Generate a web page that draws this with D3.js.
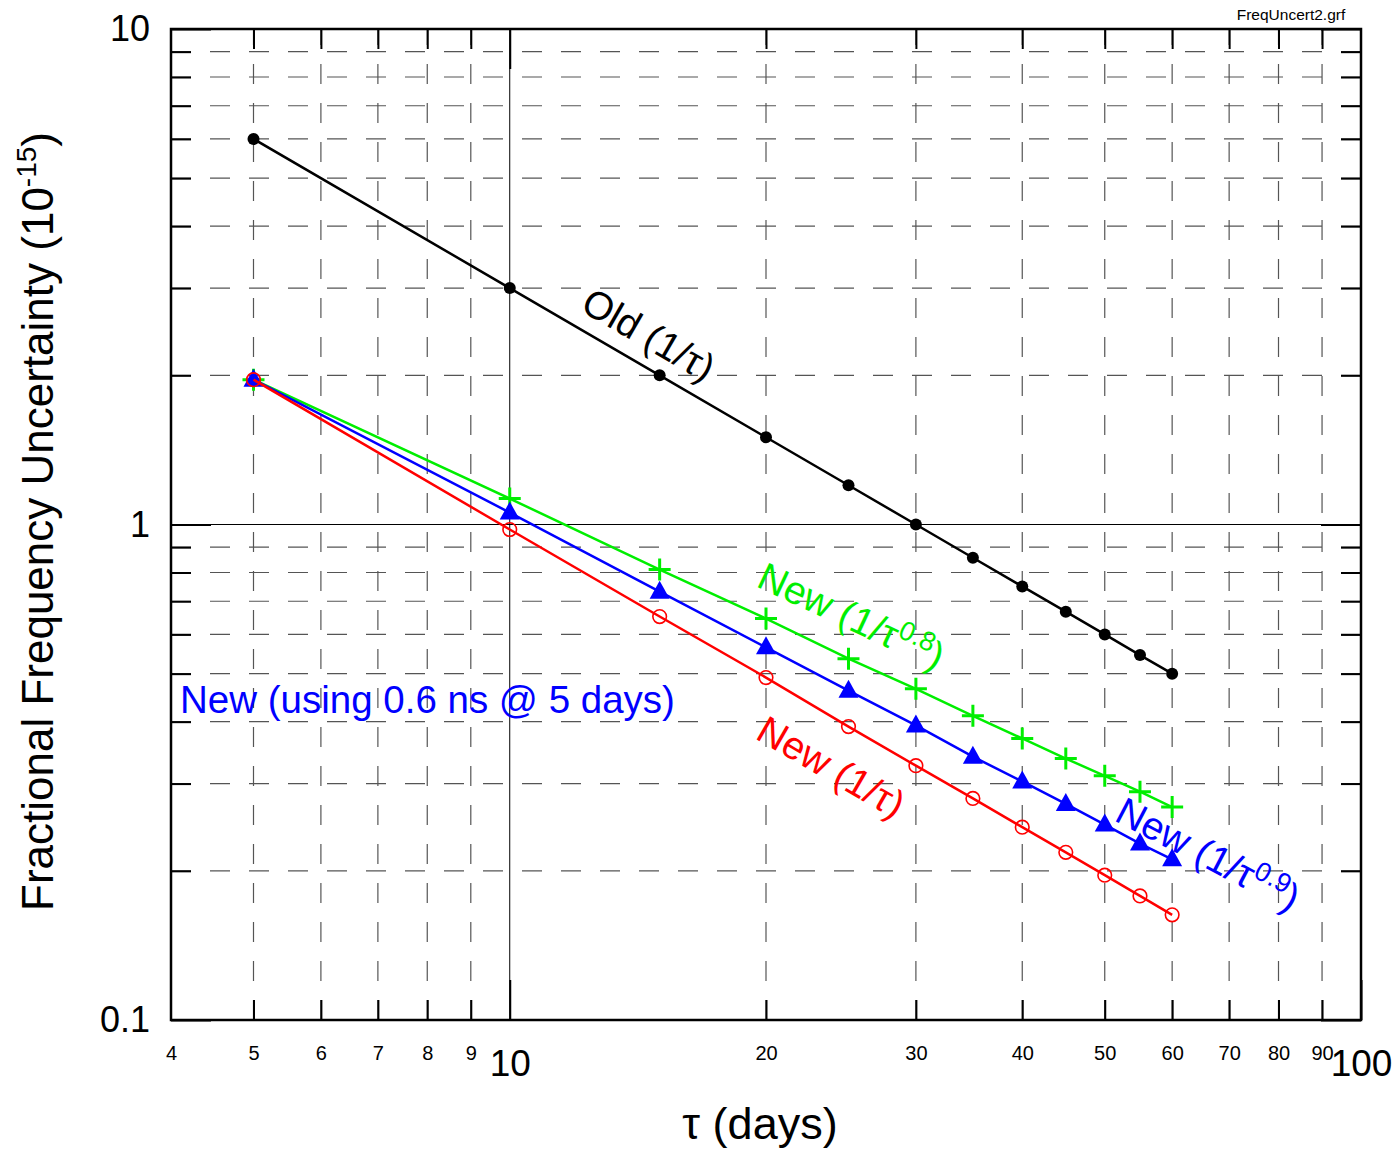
<!DOCTYPE html>
<html>
<head>
<meta charset="utf-8">
<script src="https://cdn.jsdelivr.net/npm/d3@7"></script>
<style>
body { margin: 0; background: #fff; }
text { font-family: "Liberation Sans", Arial, sans-serif; }
</style>
</head>
<body>
<script>
// tau in days, values in units of 1e-15
const tau = [5, 10, 15, 20, 25, 30, 35, 40, 45, 50, 55, 60];
const oldVals = [6.0, 3.0, 2.0, 1.5, 1.2, 1.0, 0.857, 0.75, 0.667, 0.6, 0.545, 0.5];
const newInv = [1.96, 0.977, 0.652, 0.491, 0.391, 0.326, 0.28, 0.245, 0.218, 0.196, 0.178, 0.163];
const newP09 = [1.96, 1.057, 0.732, 0.565, 0.462, 0.393, 0.34, 0.303, 0.273, 0.248, 0.227, 0.211];
const newP08 = [1.96, 1.128, 0.811, 0.646, 0.536, 0.466, 0.411, 0.37, 0.337, 0.311, 0.289, 0.269];

const xMinor = [5, 6, 7, 8, 9, 20, 30, 40, 50, 60, 70, 80, 90];
const xMajor = [10, 100];
const xEdge = [4];
const yMinor = [0.2, 0.3, 0.4, 0.5, 0.6, 0.7, 0.8, 0.9, 2, 3, 4, 5, 6, 7, 8, 9];
const yMajor = [0.1, 1, 10];

function draw() {
  const W = 1398, H = 1151;
  const L = 171, R = 1361, T = 29, B = 1020;

  const svg = d3.select("body").append("svg")
    .attr("width", W).attr("height", H);

  const x = d3.scaleLog().domain([4, 100]).range([L, R]);
  const y = d3.scaleLog().domain([0.1, 10]).range([B, T]);

  // dashed grid
  const grid = svg.append("g");
  grid.selectAll(".gx").data(xMinor).enter().append("line")
    .attr("x1", d => x(d)).attr("x2", d => x(d))
    .attr("y1", B).attr("y2", T)
    .attr("stroke", "#555").attr("stroke-width", 1.2)
    .attr("stroke-dasharray", "20,19");
  grid.selectAll(".gy").data(yMinor).enter().append("line")
    .attr("x1", L).attr("x2", R)
    .attr("y1", d => y(d)).attr("y2", d => y(d))
    .attr("stroke", "#555").attr("stroke-width", 1.2)
    .attr("stroke-dasharray", "20,19");
  // solid decade lines
  grid.append("line").attr("x1", x(10)).attr("x2", x(10)).attr("y1", B).attr("y2", T)
    .attr("stroke", "#000").attr("stroke-width", 1);
  grid.append("line").attr("x1", L).attr("x2", R).attr("y1", y(1)).attr("y2", y(1))
    .attr("stroke", "#000").attr("stroke-width", 1);

  // axes with inward ticks
  function style(g, fs) {
    g.select(".domain").remove();
    g.selectAll(".tick line").attr("stroke", "#000").attr("stroke-width", 2);
    g.selectAll("text").attr("font-size", fs).attr("fill", "#000")
      .attr("font-family", "Liberation Sans, Arial, sans-serif");
  }
  const fmt = d3.format("");
  svg.append("g").attr("transform", `translate(0,${B})`)
    .call(d3.axisBottom(x).tickValues(xMinor.concat(xEdge)).tickSize(-20).tickPadding(26).tickFormat(fmt))
    .call(g => style(g, 20))
    .call(g => g.selectAll(".tick").filter(d => d === 4).select("line").remove());
  svg.append("g").attr("transform", `translate(0,${B})`)
    .call(d3.axisBottom(x).tickValues(xMajor).tickSize(-40).tickPadding(30).tickFormat(fmt))
    .call(g => style(g, 37));
  svg.append("g").attr("transform", `translate(0,${T})`)
    .call(d3.axisTop(x).tickValues(xMinor).tickSize(-20).tickFormat(""))
    .call(g => style(g, 0));
  svg.append("g").attr("transform", `translate(0,${T})`)
    .call(d3.axisTop(x).tickValues([10]).tickSize(-40).tickFormat(""))
    .call(g => style(g, 0));
  svg.append("g").attr("transform", `translate(${L},0)`)
    .call(d3.axisLeft(y).tickValues(yMinor).tickSize(-20).tickFormat(""))
    .call(g => style(g, 0));
  svg.append("g").attr("transform", `translate(${L},0)`)
    .call(d3.axisLeft(y).tickValues(yMajor).tickSize(-40).tickPadding(21).tickFormat(d => d < 1 ? "0.1" : fmt(d)))
    .call(g => style(g, 36));
  svg.append("g").attr("transform", `translate(${R},0)`)
    .call(d3.axisRight(y).tickValues(yMinor).tickSize(-20).tickFormat(""))
    .call(g => style(g, 0));
  svg.append("g").attr("transform", `translate(${R},0)`)
    .call(d3.axisRight(y).tickValues(yMajor).tickSize(-40).tickFormat(""))
    .call(g => style(g, 0));

  // frame
  svg.append("rect").attr("x", L).attr("y", T).attr("width", R - L).attr("height", B - T)
    .attr("fill", "none").attr("stroke", "#000").attr("stroke-width", 2.5);

  // series
  const line = d3.line().x(d => x(d[0])).y(d => y(d[1]));
  function series(vals, color) {
    const pts = tau.map((t, i) => [t, vals[i]]);
    svg.append("path").datum(pts).attr("d", line)
      .attr("fill", "none").attr("stroke", color).attr("stroke-width", 2.5);
    return pts;
  }

  const pOld = series(oldVals, "#000");
  svg.append("g").selectAll("circle").data(pOld).enter().append("circle")
    .attr("cx", d => x(d[0])).attr("cy", d => y(d[1])).attr("r", 6).attr("fill", "#000");

  const p8 = series(newP08, "#00ee00");
  svg.append("g").selectAll("path").data(p8).enter().append("path")
    .attr("transform", d => `translate(${x(d[0])},${y(d[1])})`)
    .attr("d", "M-11,0H11M0,-11V11")
    .attr("stroke", "#00ee00").attr("stroke-width", 3).attr("fill", "none");

  const p9 = series(newP09, "#0000ff");
  svg.append("g").selectAll("path").data(p9).enter().append("path")
    .attr("transform", d => `translate(${x(d[0])},${y(d[1])})`)
    .attr("d", "M0,-11L10,7L-10,7Z")
    .attr("fill", "#0000ff");

  const pInv = series(newInv, "#ff0000");
  svg.append("g").selectAll("circle").data(pInv).enter().append("circle")
    .attr("cx", d => x(d[0])).attr("cy", d => y(d[1])).attr("r", 6.8)
    .attr("fill", "none").attr("stroke", "#ff0000").attr("stroke-width", 1.6);

  // line labels
  function label(px, py, ang, color, main, sup, tail) {
    const t = svg.append("text")
      .attr("transform", `translate(${px},${py}) rotate(${ang})`)
      .attr("font-size", 39).attr("fill", color);
    t.append("tspan").text(main);
    if (sup) {
      t.append("tspan").attr("font-size", 27).attr("dy", -14).text(sup);
      t.append("tspan").attr("dy", 14).text(tail);
    }
    return t;
  }
  label(579, 310, 30, "#000", "Old (1/τ)");
  label(755, 586, 25, "#00ee00", "New (1/τ", "0.8", ")");
  label(754, 738, 30, "#ff0000", "New (1/τ)");
  label(1113, 820, 27.5, "#0000ff", "New (1/τ", "0.9", ")");

  svg.append("text").attr("x", 180).attr("y", 713)
    .attr("font-size", 38.5).attr("fill", "#0000ff")
    .text("New (using 0.6 ns @ 5 days)");

  // axis titles
  const yl = svg.append("text")
    .attr("transform", `translate(53,${(T + B) / 2 - 3}) rotate(-90)`)
    .attr("text-anchor", "middle").attr("font-size", 44).attr("fill", "#000");
  yl.append("tspan").text("Fractional Frequency Uncertainty (10");
  yl.append("tspan").attr("font-size", 28).attr("dy", -17).text("-15");
  yl.append("tspan").attr("dy", 17).text(")");

  svg.append("text").attr("x", 760).attr("y", 1139)
    .attr("text-anchor", "middle").attr("font-size", 45).attr("fill", "#000")
    .text("τ (days)");

  svg.append("text").attr("x", 1291).attr("y", 20)
    .attr("text-anchor", "middle").attr("font-size", 15.5).attr("fill", "#000")
    .text("FreqUncert2.grf");
}
window.onload = draw;
</script>
</body>
</html>
